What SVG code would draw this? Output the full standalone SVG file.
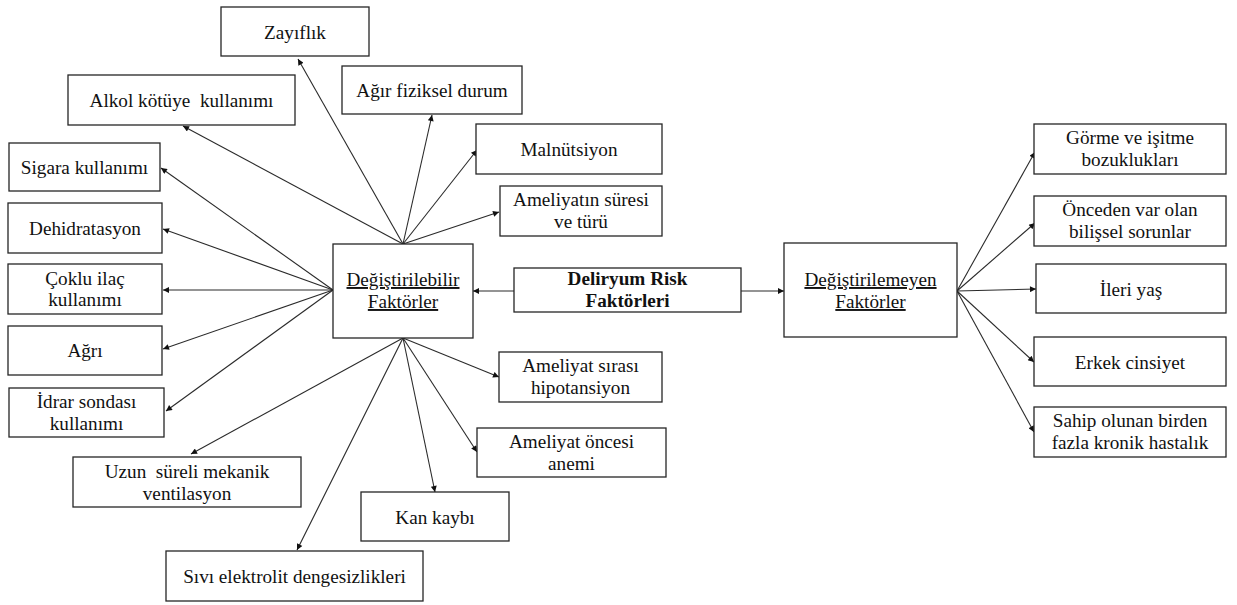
<svg xmlns="http://www.w3.org/2000/svg" width="1237" height="605" viewBox="0 0 1237 605">
<style>
rect{fill:#fff;stroke:#262626;stroke-width:1.3}
text{font-size:19.2px;fill:#111;text-anchor:middle}
.b{font-weight:bold}
.u{text-decoration:underline}
#connectors line{stroke:#2a2a2a;stroke-width:1.1;marker-end:url(#ah)}
</style>
<defs>
<marker id="ah" viewBox="0 0 10 10" refX="10" refY="5" markerWidth="8" markerHeight="6" markerUnits="userSpaceOnUse" orient="auto">
<path d="M0,0 L10,5 L0,10 z" fill="#111"/>
</marker>
</defs>
<rect x="0" y="0" width="1237" height="605" style="fill:#fff;stroke:none"/>
<g id="connectors">
<line x1="403" y1="244" x2="298" y2="59"/>
<line x1="403" y1="244" x2="183" y2="126"/>
<line x1="403" y1="244" x2="432" y2="115"/>
<line x1="403" y1="244" x2="477" y2="150"/>
<line x1="403" y1="244" x2="499" y2="212"/>
<line x1="333" y1="290" x2="161" y2="168"/>
<line x1="333" y1="290" x2="163" y2="229"/>
<line x1="333" y1="290" x2="163" y2="290"/>
<line x1="333" y1="290" x2="163" y2="349"/>
<line x1="333" y1="290" x2="166" y2="411"/>
<line x1="403" y1="338" x2="191" y2="454"/>
<line x1="403" y1="338" x2="297" y2="550"/>
<line x1="403" y1="338" x2="435" y2="492"/>
<line x1="403" y1="338" x2="477" y2="452"/>
<line x1="403" y1="338" x2="499" y2="377"/>
<line x1="514" y1="291" x2="473" y2="291"/>
<line x1="741" y1="291" x2="784" y2="291"/>
<line x1="957" y1="291" x2="1035" y2="152"/>
<line x1="957" y1="291" x2="1035" y2="223"/>
<line x1="957" y1="291" x2="1036" y2="289"/>
<line x1="957" y1="291" x2="1034" y2="362"/>
<line x1="957" y1="291" x2="1034" y2="432"/>
</g>
<g font-family="'Liberation Serif', 'Times New Roman', Times, serif">
<g id="n-deliryum"><rect x="514" y="268" width="227" height="44"/><text class="b" x="627.5" y="285">Deliryum Risk</text><text class="b" x="627.5" y="307">Faktörleri</text></g>
<g id="n-degistirilebilir"><rect x="333" y="244" width="140" height="94"/><text class="u" x="403" y="286">Değiştirilebilir</text><text class="u" x="403" y="308">Faktörler</text></g>
<g id="n-degistirilemeyen"><rect x="784" y="243" width="173" height="94"/><text class="u" x="870.5" y="286">Değiştirilemeyen</text><text class="u" x="870.5" y="308">Faktörler</text></g>
<g id="n-zayiflik"><rect x="221" y="7" width="148" height="49"/><text x="295" y="39">Zayıflık</text></g>
<g id="n-alkol"><rect x="68" y="75" width="227" height="50"/><text x="181.5" y="107" xml:space="preserve">Alkol kötüye  kullanımı</text></g>
<g id="n-sigara"><rect x="9" y="143" width="151" height="48"/><text x="84.5" y="174">Sigara kullanımı</text></g>
<g id="n-dehidratasyon"><rect x="8" y="203" width="154" height="50"/><text x="85" y="235">Dehidratasyon</text></g>
<g id="n-coklu"><rect x="8" y="264" width="154" height="50"/><text x="85" y="285">Çoklu ilaç</text><text x="85" y="306">kullanımı</text></g>
<g id="n-agri"><rect x="8" y="326" width="154" height="49"/><text x="85" y="357">Ağrı</text></g>
<g id="n-idrar"><rect x="9" y="388" width="155" height="49"/><text x="86.5" y="408">İdrar sondası</text><text x="86.5" y="430">kullanımı</text></g>
<g id="n-uzun"><rect x="73" y="457" width="228" height="50"/><text x="187" y="478" xml:space="preserve">Uzun  süreli mekanik</text><text x="187" y="500">ventilasyon</text></g>
<g id="n-sivi"><rect x="166" y="551" width="257" height="50"/><text x="294.5" y="583">Sıvı elektrolit dengesizlikleri</text></g>
<g id="n-kan"><rect x="361" y="492" width="148" height="49"/><text x="435" y="524">Kan kaybı</text></g>
<g id="n-anemi"><rect x="477" y="428" width="189" height="49"/><text x="571.5" y="448">Ameliyat öncesi</text><text x="571.5" y="470">anemi</text></g>
<g id="n-hipotansiyon"><rect x="499" y="352" width="163" height="50"/><text x="580.5" y="372">Ameliyat sırası</text><text x="580.5" y="394">hipotansiyon</text></g>
<g id="n-agir"><rect x="342" y="66" width="180" height="48"/><text x="432" y="97">Ağır fiziksel durum</text></g>
<g id="n-malnutsiyon"><rect x="476" y="124" width="186" height="50"/><text x="569" y="156">Malnütsiyon</text></g>
<g id="n-suresi"><rect x="500" y="186" width="162" height="50"/><text x="581" y="206">Ameliyatın süresi</text><text x="581" y="228">ve türü</text></g>
<g id="n-gorme"><rect x="1034" y="124" width="192" height="50"/><text x="1130" y="144">Görme ve işitme</text><text x="1130" y="166">bozuklukları</text></g>
<g id="n-onceden"><rect x="1034" y="196" width="192" height="50"/><text x="1130" y="216">Önceden var olan</text><text x="1130" y="238">bilişsel sorunlar</text></g>
<g id="n-ileri"><rect x="1036" y="264" width="190" height="49"/><text x="1131" y="296">İleri yaş</text></g>
<g id="n-erkek"><rect x="1034" y="337" width="192" height="49"/><text x="1130" y="369">Erkek cinsiyet</text></g>
<g id="n-sahip"><rect x="1034" y="407" width="192" height="50"/><text x="1130" y="427">Sahip olunan birden</text><text x="1130" y="449">fazla kronik hastalık</text></g>
</g>
</svg>
